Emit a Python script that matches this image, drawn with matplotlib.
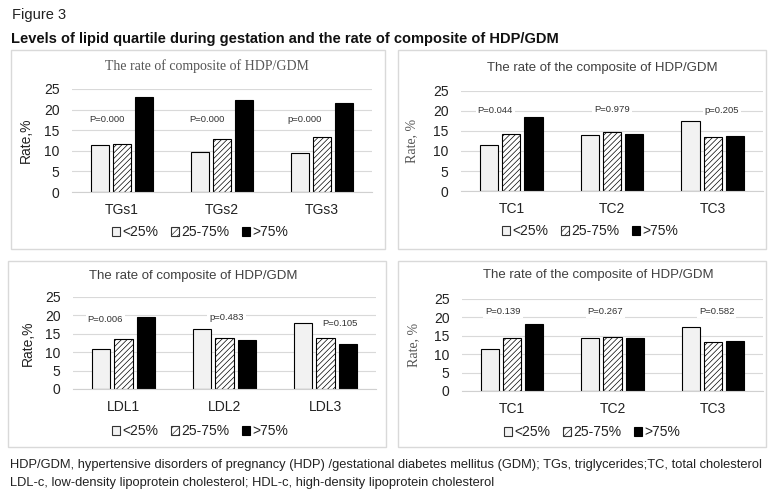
import matplotlib
matplotlib.use("Agg")
import matplotlib.pyplot as plt
from matplotlib.patches import Rectangle, Patch
import numpy as np

plt.rcParams['font.family'] = ['Liberation Sans', 'DejaVu Sans']
plt.rcParams['hatch.linewidth'] = 0.5

W, H = 769, 491

# data
groups = ["<25%", "25-75%", ">75%"]

tg_cats = ["TGs1", "TGs2", "TGs3"]
tg_low = [11.5, 9.8, 9.4]
tg_mid = [11.7, 12.8, 13.4]
tg_high = [23.0, 22.3, 21.5]
tg_p = ["P=0.000", "P=0.000", "p=0.000"]

tc_cats = ["TC1", "TC2", "TC3"]
tc_low = [11.4, 14.1, 17.6]
tc_mid = [14.2, 14.7, 13.4]
tc_high = [18.4, 14.3, 13.7]
tc_p = ["P=0.044", "P=0.979", "p=0.205"]

ldl_cats = ["LDL1", "LDL2", "LDL3"]
ldl_low = [10.9, 16.4, 17.8]
ldl_mid = [13.5, 13.9, 13.9]
ldl_high = [19.5, 13.3, 12.1]
ldl_p = ["P=0.006", "p=0.483", "P=0.105"]

tc2_cats = ["TC1", "TC2", "TC3"]
tc2_low = [11.4, 14.3, 17.5]
tc2_mid = [14.3, 14.6, 13.3]
tc2_high = [18.3, 14.3, 13.6]
tc2_p = ["P=0.139", "P=0.267", "P=0.582"]

yticks = [0, 5, 10, 15, 20, 25]


def fx(x):
    return x / W


def fy(y):
    return 1 - y / H


fig = plt.figure(figsize=(W / 100, H / 100), dpi=100)

fig.text(fx(12), fy(15), "Figure 3", fontsize=10.5, color="#222222", va="center")
fig.text(fx(11), fy(39), "Levels of lipid quartile during gestation and the rate of composite of HDP/GDM",
         fontsize=10.5, fontweight="bold", color="#111111", va="center")

# panel boxes (left, top, right, bottom) in pixels
boxes = [(11, 50, 385, 249), (398, 50, 766, 249), (8, 261, 386, 447), (398, 261, 766, 447)]
for b in boxes:
    fig.patches.append(Rectangle((fx(b[0]), fy(b[3])), fx(b[2] - b[0]), (b[3] - b[1]) / H,
                                 transform=fig.transFigure, fill=False, edgecolor="#d9d9d9", lw=1))

# axes rectangles (left, top(25), right, bottom(0)) in pixels
axrects = [(72, 89, 372, 192), (461, 91, 763, 191), (73, 297, 376, 389), (462, 299, 763, 391)]

panels = [
    (tg_cats, tg_low, tg_mid, tg_high, tg_p, [(-0.15, 17.7), (-0.15, 17.7), (-0.17, 17.7)]),
    (tc_cats, tc_low, tc_mid, tc_high, tc_p, [(-0.16, 20.2), (0.0, 20.4), (0.09, 20.2)]),
    (ldl_cats, ldl_low, ldl_mid, ldl_high, ldl_p, [(-0.18, 19.0), (0.02, 19.3), (0.14, 17.9)]),
    (tc2_cats, tc2_low, tc2_mid, tc2_high, tc2_p, [(-0.09, 21.5), (-0.07, 21.5), (0.04, 21.5)]),
]

titles = ["The rate of composite of HDP/GDM", "The rate of the composite of HDP/GDM",
          "The rate of composite of HDP/GDM", "The rate of the composite of HDP/GDM"]
title_pos = [(207, 66), (602, 68), (193, 276), (598, 275)]
title_font = [dict(family="Liberation Serif", fontsize=10, color="#555555"),
              dict(fontsize=9.5, color="#404040"),
              dict(fontsize=9.5, color="#404040"),
              dict(fontsize=9.5, color="#404040")]
ylab = ["Rate,%", "Rate, %", "Rate,%", "Rate, %"]
ylab_font = [dict(fontsize=10, color="#222222"),
             dict(family="Liberation Serif", fontsize=10, color="#555555"),
             dict(fontsize=10, color="#222222"),
             dict(family="Liberation Serif", fontsize=10, color="#555555")]
ylab_x = [33, 418, 35, 420]
legend_pos = [(200, 232), (590, 231), (200, 431), (592, 432)]

width = 0.18
offs = [-0.22, 0.0, 0.22]

for k, (cats, lo, mid, hi, pv, ppos) in enumerate(panels):
    l, t, r, b = axrects[k]
    ax = fig.add_axes([fx(l), fy(b), (r - l) / W, (b - t) / H])
    x = np.arange(len(cats))
    ax.bar(x + offs[0], lo, width, color="#f2f2f2", edgecolor="black", lw=0.8, label=groups[0])
    ax.bar(x + offs[1], mid, width, color="white", edgecolor="black", hatch="//////", lw=0.8, label=groups[1])
    ax.bar(x + offs[2], hi, width, color="black", edgecolor="black", lw=0.8, label=groups[2])
    ax.set_xlim(-0.5, 2.5)
    ax.set_ylim(0, 25)
    ax.set_yticks(yticks)
    ax.set_xticks(x)
    ax.set_xticklabels(cats)
    ax.yaxis.grid(True, color="#d9d9d9", lw=0.8)
    ax.set_axisbelow(True)
    for s in ["top", "right", "left"]:
        ax.spines[s].set_visible(False)
    ax.spines["bottom"].set_color("#d0d0d0")
    ax.tick_params(axis="both", length=0, labelsize=10, colors="#222222")
    ax.tick_params(axis="y", pad=9)
    ax.tick_params(axis="x", pad=8)
    ax.set_ylabel(ylab[k], **ylab_font[k])
    ax.yaxis.set_label_coords((ylab_x[k] - l) / (r - l), 0.5)
    for i, s in enumerate(pv):
        ax.text(i + ppos[i][0], ppos[i][1], s, fontsize=6.8, color="#333333", ha="center", va="center",
                bbox=dict(boxstyle="square,pad=0.2", fc="white", ec="none"))
    fig.text(fx(title_pos[k][0]), fy(title_pos[k][1]), titles[k], ha="center", va="center", **title_font[k])
    h = [Patch(facecolor="#f2f2f2", edgecolor="#333333", lw=0.8),
         Patch(facecolor="white", edgecolor="#333333", hatch="/////", lw=0.8),
         Patch(facecolor="black", edgecolor="black", lw=0.8)]
    fig.legend(h, groups, loc="center", bbox_to_anchor=(fx(legend_pos[k][0]), fy(legend_pos[k][1])),
               ncol=3, frameon=False, fontsize=10, handlelength=0.6, handleheight=0.6,
               handletextpad=0.15, columnspacing=0.9, borderpad=0, labelcolor="#222222")

fig.text(fx(10), fy(465), "HDP/GDM, hypertensive disorders of pregnancy (HDP) /gestational diabetes mellitus (GDM); "
         "TGs, triglycerides;TC, total cholesterol", fontsize=9.3, color="#222222", va="center")
fig.text(fx(10), fy(483), "LDL-c, low-density lipoprotein cholesterol; HDL-c, high-density lipoprotein cholesterol",
         fontsize=9.3, color="#222222", va="center")

fig.savefig("out.png", dpi=100, facecolor="white")
